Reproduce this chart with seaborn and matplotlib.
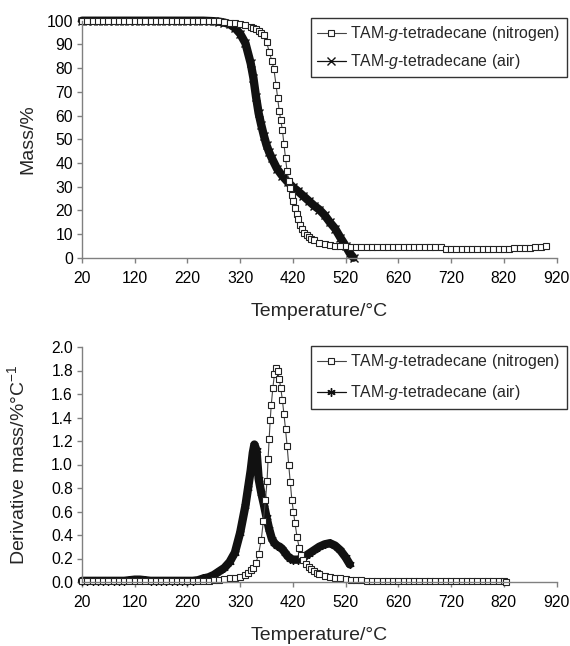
import numpy as np
import pandas as pd
import matplotlib
matplotlib.use("Agg")
from matplotlib import pyplot as plt
import seaborn as sns

# ---- TGA: mass % vs temperature ----
n2_temp = [20, 30, 40, 50, 60, 70, 80, 90, 100, 110, 120, 130, 140, 150, 160, 170, 180, 190,
           200, 210, 220, 230, 240, 250, 260, 270, 280, 290, 300, 310, 320, 330, 340, 345,
           350, 355, 360, 365, 370, 375, 380, 384, 388, 391, 394, 397, 400, 403, 406, 409,
           412, 415, 418, 421, 424, 427, 430, 434, 438, 442, 446, 450, 455, 460, 470, 480,
           490, 500, 510, 520, 530, 540, 550, 560, 570, 580, 590, 600, 610, 620, 630, 640,
           650, 660, 670, 680, 690, 700, 710, 720, 730, 740, 750, 760, 770, 780, 790, 800,
           810, 820, 830, 840, 850, 860, 870, 880, 890, 900]
n2_mass = [100, 100, 100, 100, 100, 100, 100, 100, 100, 100, 100, 100, 100, 100, 100, 100, 100, 100,
           100, 100, 100, 100, 100, 100, 99.9, 99.8, 99.7, 99.5, 99.2, 99.0, 98.7, 98.2, 97.5, 97.0,
           96.5, 95.8, 95.0, 93.8, 91.0, 87.0, 83.0, 79.5, 73.0, 67.5, 62.0, 58.0, 54.0, 48.0, 42.0, 36.5,
           32.5, 29.5, 26.5, 23.8, 21.0, 18.5, 16.3, 13.8, 12.0, 10.5, 9.4, 8.6, 7.9, 7.3, 6.4, 5.8,
           5.4, 5.1, 4.9, 4.8, 4.7, 4.6, 4.6, 4.6, 4.6, 4.6, 4.6, 4.6, 4.6, 4.6, 4.6, 4.6,
           4.6, 4.6, 4.6, 4.6, 4.6, 4.6, 3.8, 3.8, 3.8, 3.8, 3.8, 3.8, 3.8, 3.8, 3.8, 3.8,
           3.8, 3.8, 3.8, 4.3, 4.3, 4.3, 4.3, 4.4, 4.4, 4.9]

air_temp = [20, 30, 40, 50, 60, 70, 80, 90, 100, 110, 120, 130, 140, 150, 160, 170, 180, 190,
            200, 210, 220, 230, 240, 250, 260, 270, 280, 290, 300, 310, 320, 330, 340, 345,
            350, 355, 360, 365, 370, 375, 380, 390, 400, 410, 420, 430, 440, 450, 460, 470,
            480, 490, 500, 510, 520, 528, 535]
air_mass = [100, 100, 100, 100, 100, 100, 100, 100, 100, 100, 100, 100, 100, 100, 100, 100, 100, 100,
            100, 100, 100, 100, 100, 100, 99.9, 99.8, 99.6, 99.2, 98.5, 97.0, 94.5, 90.5, 82.0, 76.0,
            68.0, 61.0, 56.0, 51.5, 47.5, 44.5, 42.0, 37.5, 34.5, 32.0, 29.8, 28.0, 26.0, 24.0, 22.0, 20.3,
            18.0, 15.0, 12.3, 8.5, 5.0, 1.9, 0.0]

# ---- DTG: derivative mass %/°C vs temperature ----
n2_dtg_temp = [20, 30, 40, 50, 60, 70, 80, 90, 100, 110, 120, 130, 140, 150, 160, 170, 180, 190,
               200, 210, 220, 230, 240, 250, 260, 270, 280, 290, 300, 310, 320, 330, 335, 340,
               345, 350, 355, 360, 364, 368, 371, 373, 375, 377, 379, 382, 385, 388, 391, 394,
               397, 400, 403, 406, 409, 412, 415, 418, 421, 424, 428, 432, 436, 440, 445, 450,
               455, 460, 465, 470, 480, 490, 500, 510, 520, 530, 540, 550, 560, 570, 580, 590,
               600, 610, 620, 630, 640, 650, 660, 670, 680, 690, 700, 710, 720, 730, 740, 750,
               760, 770, 780, 790, 800, 810, 820, 825]
n2_dtg = [0.01, 0.01, 0.01, 0.01, 0.01, 0.01, 0.01, 0.01, 0.01, 0.01, 0.01, 0.01, 0.01, 0.01, 0.01, 0.01, 0.01, 0.01,
          0.01, 0.01, 0.01, 0.01, 0.01, 0.01, 0.012, 0.015, 0.02, 0.025, 0.03, 0.035, 0.045, 0.06, 0.08, 0.1,
          0.12, 0.16, 0.24, 0.36, 0.52, 0.7, 0.86, 1.05, 1.22, 1.38, 1.51, 1.65, 1.77, 1.82, 1.8, 1.73,
          1.65, 1.55, 1.43, 1.3, 1.16, 1.0, 0.85, 0.7, 0.6, 0.5, 0.38, 0.29, 0.23, 0.19, 0.15, 0.13,
          0.11, 0.09, 0.08, 0.07, 0.055, 0.045, 0.035, 0.03, 0.025, 0.02, 0.018, 0.015, 0.01, 0.01, 0.01, 0.01,
          0.01, 0.01, 0.01, 0.01, 0.01, 0.01, 0.01, 0.01, 0.01, 0.01, 0.01, 0.01, 0.01, 0.01, 0.01, 0.01,
          0.01, 0.01, 0.01, 0.01, 0.01, 0.01, 0.01, 0.0]

air_dtg_temp = [20, 30, 40, 50, 60, 70, 80, 90, 100, 110, 120, 130, 140, 150, 160, 170, 180, 190,
                200, 210, 220, 230, 240, 250, 260, 270, 280, 290, 300, 310, 320, 330, 335, 340,
                344, 347, 351, 355, 360, 365, 370, 375, 380, 385, 390, 395, 400, 405, 410, 415,
                420, 430, 440, 450, 460, 470, 480, 490, 500, 510, 520, 528]
air_dtg = [0.01, 0.01, 0.01, 0.01, 0.01, 0.01, 0.01, 0.01, 0.01, 0.015, 0.02, 0.02, 0.015, 0.01, 0.01, 0.01, 0.01, 0.01,
           0.01, 0.01, 0.01, 0.01, 0.015, 0.03, 0.04, 0.06, 0.09, 0.12, 0.17, 0.25, 0.42, 0.65, 0.8, 0.95,
           1.1, 1.17, 1.12, 0.88, 0.76, 0.66, 0.55, 0.45, 0.37, 0.33, 0.31, 0.3, 0.28, 0.25, 0.22, 0.2,
           0.19, 0.19, 0.21, 0.24, 0.27, 0.3, 0.32, 0.33, 0.31, 0.27, 0.21, 0.15]

temp_ticks = [20, 120, 220, 320, 420, 520, 620, 720, 820, 920]
mass_ticks = [0, 10, 20, 30, 40, 50, 60, 70, 80, 90, 100]
dtg_ticks = [0.0, 0.2, 0.4, 0.6, 0.8, 1.0, 1.2, 1.4, 1.6, 1.8, 2.0]

lab_n2 = 'TAM-$\\mathit{g}$-tetradecane (nitrogen)'
lab_air = 'TAM-$\\mathit{g}$-tetradecane (air)'

sns.set_theme(style="white")
plt.rcParams['font.family'] = ['Liberation Sans', 'DejaVu Sans']
plt.rcParams['mathtext.fontset'] = 'custom'
plt.rcParams['mathtext.rm'] = 'Liberation Sans'
plt.rcParams['mathtext.it'] = 'Liberation Sans:italic'

fig = plt.figure(figsize=(5.7, 6.46), dpi=100)
W, H = 570, 646
ax1 = fig.add_axes([82 / W, 1 - 257.7 / H, 474.5 / W, 237 / H])
ax2 = fig.add_axes([82 / W, 1 - 582 / H, 474.5 / W, 235 / H])

sq = dict(marker='s', markersize=4.2, markerfacecolor='white', markeredgecolor='#222222',
          markeredgewidth=0.8, color='#444444', linewidth=0.8, clip_on=False,
          estimator=None, sort=False)


def draw(ax, tn, yn, ta, ya, air_marker):
    # thick band for the densely sampled air curve
    sns.lineplot(x=ta, y=ya, ax=ax, color='#111111', linewidth=6, clip_on=False,
                 estimator=None, sort=False)
    sns.lineplot(x=ta, y=ya, ax=ax, color='#111111', linewidth=0.9, marker=air_marker,
                 markersize=6, markeredgewidth=1.0, markeredgecolor='#111111',
                 clip_on=False, estimator=None, sort=False, label=lab_air)
    sns.lineplot(x=tn, y=yn, ax=ax, label=lab_n2, **sq)
    h, l = ax.get_legend_handles_labels()
    order = [l.index(lab_n2), l.index(lab_air)]
    return [h[i] for i in order], [l[i] for i in order]


h1, l1 = draw(ax1, n2_temp, n2_mass, air_temp, air_mass, 'x')
h2, l2 = draw(ax2, n2_dtg_temp, n2_dtg, air_dtg_temp, air_dtg, (6, 2, 0))

for ax in (ax1, ax2):
    ax.set_xlim(20, 920)
    ax.set_xticks(temp_ticks)
    ax.set_xticklabels([str(t) for t in temp_ticks])
    for s in ('top', 'right'):
        ax.spines[s].set_visible(False)
    for s in ('left', 'bottom'):
        ax.spines[s].set_color('#808080')
        ax.spines[s].set_linewidth(1.0)
    ax.tick_params(direction='out', length=3.5, width=1, color='#808080',
                   labelsize=11.3, labelcolor='black', left=True, bottom=True)
    ax.tick_params(axis='x', pad=6)
    ax.tick_params(axis='y', pad=3)
    ax.set_xlabel('Temperature/°C', fontsize=14)

ax1.set_ylim(0, 100)
ax1.set_yticks(mass_ticks)
ax1.set_ylabel('Mass/%', fontsize=14)
ax2.set_ylim(0, 2.0)
ax2.set_yticks(dtg_ticks)
ax2.set_yticklabels(['%.1f' % v for v in dtg_ticks])
ax2.set_ylabel('Derivative mass/%°C$^{-1}$', fontsize=14)

ax1.yaxis.set_label_coords(-0.097, 0.5)
ax2.yaxis.set_label_coords(-0.113, 0.5)
ax1.xaxis.set_label_coords(0.5, -0.19)
ax2.xaxis.set_label_coords(0.5, -0.19)

for ax, h, l, top, lsp in ((ax1, h1, l1, 18, 0.55), (ax2, h2, l2, 346, 0.75)):
    leg = ax.legend(h, l, loc='upper right', bbox_to_anchor=(567 / W, 1 - top / H),
                    bbox_transform=fig.transFigure, fontsize=11.4, frameon=True,
                    fancybox=False, framealpha=1, edgecolor='#333333', handlelength=1.8,
                    handletextpad=0.3, borderpad=0.4, labelspacing=lsp, borderaxespad=0)
    leg.get_frame().set_linewidth(1.0)

fig.savefig('out.png', dpi=100)
